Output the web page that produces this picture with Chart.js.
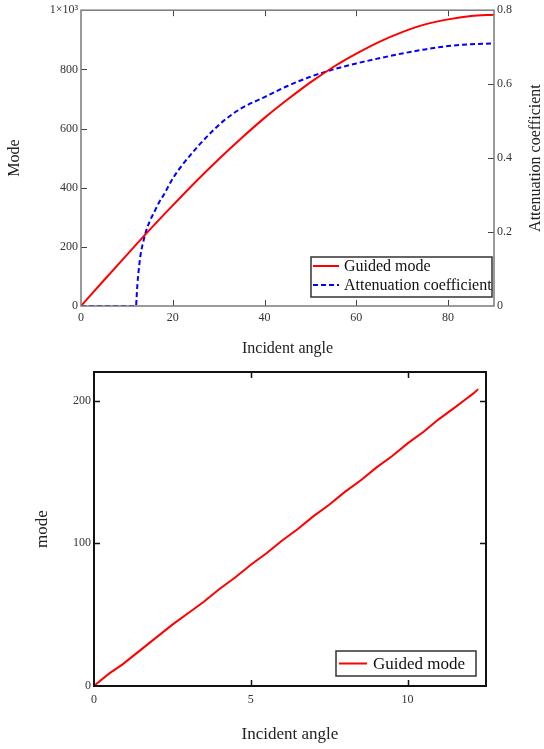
<!DOCTYPE html>
<html>
<head>
<meta charset="utf-8">
<script src="https://cdn.jsdelivr.net/npm/chart.js@4/dist/chart.umd.min.js"></script>
<style>
  html, body { margin: 0; padding: 0; background: #fff; }
  #wrap { position: relative; width: 544px; height: 749px; }
  #topBox { position: absolute; left: 0; top: 0; width: 544px; height: 360px; }
  #bottomBox { position: absolute; left: 0; top: 360px; width: 544px; height: 389px; }
</style>
</head>
<body>
<div id="wrap">
  <div id="topBox"><canvas id="topChart" width="544" height="360"></canvas></div>
  <div id="bottomBox"><canvas id="bottomChart" width="544" height="389"></canvas></div>
</div>
<script>
// ----- data -----
// top chart: guided mode vs incident angle
const topAngles = [0, 5, 10, 15, 20, 25, 30, 35, 40, 45, 50, 55, 60, 65, 70, 75, 80, 85, 90];
const topGuided = [0, 87, 173, 258, 340, 420, 496, 568, 636, 698, 756, 808, 853, 893, 926, 952, 969, 980, 985];

// top chart: attenuation coefficient vs incident angle
const attAngles = [0, 12, 12.1, 12.3, 12.6, 13, 13.5, 14, 15, 16, 17, 18, 20, 22, 25, 28, 31, 35, 40, 45, 50, 55, 60, 65, 70, 75, 80, 85, 90];
const attValues = [0, 0, 0.02, 0.06, 0.1, 0.14, 0.17, 0.195, 0.23, 0.255, 0.28, 0.3, 0.345, 0.38, 0.425, 0.465, 0.5, 0.535, 0.565, 0.595, 0.62, 0.64, 0.656, 0.67, 0.683, 0.694, 0.703, 0.708, 0.71];

// bottom chart: guided mode for small angles
const lowAngles = [0, 0.1, 0.5, 0.9, 1.3, 1.7, 2.1, 2.5, 3, 3.5, 4, 4.5, 5, 5.5, 6, 6.5, 7, 7.5, 8, 8.5, 9, 9.5, 10, 10.5, 11, 11.5, 11.8, 12.1, 12.25];
const lowGuided = [0, 2, 9, 15, 22, 29, 36, 43, 51, 59, 68, 76, 85, 93, 102, 110, 119, 127, 136, 144, 153, 161, 170, 178, 187, 195, 200, 205, 208];

// tick labels
const topXTicks = [0, 20, 40, 60, 80];
const topYTicks = [0, 200, 400, 600, 800, 1000];
const topY1Ticks = [0, 0.2, 0.4, 0.6, 0.8];
const lowXTicks = [0, 5, 10];
const lowYTicks = [0, 100, 200];

const serif = "'Liberation Serif', 'DejaVu Serif', serif";
const toPoints = (xs, ys) => xs.map((x, i) => ({ x: x, y: ys[i] }));
const fixTicks = list => scale => { scale.ticks = list.map(v => ({ value: v })); };

// frame, inward tick marks, axis titles and boxed legend
const decorPlugin = {
    id: 'decor',
    afterDraw(chart, args, o) {
        const { ctx, chartArea: a, scales } = chart;
        ctx.save();

        // tick marks pointing into the plot
        const L = 6;
        ctx.strokeStyle = o.tickColor;
        ctx.lineWidth = o.tickWidth;
        ctx.beginPath();
        scales.x.ticks.forEach(t => {
            const px = Math.round(scales.x.getPixelForValue(t.value)) + 0.5;
            if (px < a.left + 2 || px > a.right - 2) return;
            ctx.moveTo(px, a.bottom); ctx.lineTo(px, a.bottom - L);
            ctx.moveTo(px, a.top); ctx.lineTo(px, a.top + L);
        });
        scales.y.ticks.forEach(t => {
            const py = Math.round(scales.y.getPixelForValue(t.value)) + 0.5;
            if (py < a.top + 2 || py > a.bottom - 2) return;
            ctx.moveTo(a.left, py); ctx.lineTo(a.left + L, py);
            if (!scales.y1) { ctx.moveTo(a.right, py); ctx.lineTo(a.right - L, py); }
        });
        if (scales.y1) {
            scales.y1.ticks.forEach(t => {
                const py = Math.round(scales.y1.getPixelForValue(t.value)) + 0.5;
                if (py < a.top + 2 || py > a.bottom - 2) return;
                ctx.moveTo(a.right, py); ctx.lineTo(a.right - L, py);
            });
        }
        ctx.stroke();

        // frame
        ctx.strokeStyle = o.frameColor;
        ctx.lineWidth = o.frameWidth;
        ctx.strokeRect(a.left, a.top, a.right - a.left, a.bottom - a.top);

        // axis titles
        ctx.fillStyle = '#222';
        ctx.textAlign = 'center';
        ctx.textBaseline = 'middle';
        ctx.font = o.titleSize + 'px ' + serif;
        ctx.fillText(o.xTitle, (a.left + a.right) / 2, a.bottom + o.xTitleGap);
        const midY = (a.top + a.bottom) / 2;
        ctx.save();
        ctx.translate(o.yTitleX, midY);
        ctx.rotate(-Math.PI / 2);
        ctx.fillText(o.yTitle, 0, 0);
        ctx.restore();
        if (o.y1Title) {
            ctx.save();
            ctx.translate(o.y1TitleX, midY);
            ctx.rotate(-Math.PI / 2);
            ctx.fillText(o.y1Title, 0, 0);
            ctx.restore();
        }

        // legend box
        const lg = o.legend;
        const bx = a.right - lg.right - lg.width;
        const by = a.bottom - lg.bottom - lg.height;
        ctx.fillStyle = '#fff';
        ctx.fillRect(bx, by, lg.width, lg.height);
        ctx.strokeStyle = '#333';
        ctx.lineWidth = 1.5;
        ctx.strokeRect(bx, by, lg.width, lg.height);
        ctx.font = lg.size + 'px ' + serif;
        ctx.textAlign = 'left';
        chart.data.datasets.forEach((ds, i) => {
            const cy = by + lg.firstRow + i * lg.rowGap;
            ctx.strokeStyle = ds.borderColor;
            ctx.lineWidth = ds.borderWidth;
            ctx.setLineDash(ds.borderDash || []);
            ctx.beginPath();
            ctx.moveTo(bx + lg.lineStart, cy);
            ctx.lineTo(bx + lg.lineEnd, cy);
            ctx.stroke();
            ctx.setLineDash([]);
            ctx.fillStyle = '#111';
            ctx.fillText(ds.label, bx + lg.textStart, cy + 1);
        });
        ctx.restore();
    }
};

const tickFont = { family: serif, size: 12 };

// ----- top chart -----
new Chart(document.getElementById('topChart'), {
    type: 'line',
    data: {
        datasets: [{
            label: 'Guided mode',
            data: toPoints(topAngles, topGuided),
            borderColor: '#ff0000',
            borderWidth: 2,
            pointRadius: 0,
            cubicInterpolationMode: 'monotone',
            yAxisID: 'y'
        }, {
            label: 'Attenuation coefficient',
            data: toPoints(attAngles, attValues),
            borderColor: '#0000ff',
            borderWidth: 2,
            borderDash: [5, 3],
            pointRadius: 0,
            cubicInterpolationMode: 'monotone',
            yAxisID: 'y1'
        }]
    },
    options: {
        responsive: false,
        animation: false,
        layout: { padding: { top: 10, left: 0, right: 0, bottom: 0 } },
        plugins: {
            legend: { display: false },
            tooltip: { enabled: false },
            decor: {
                frameColor: '#7a7a7a', frameWidth: 1.5,
                tickColor: '#444', tickWidth: 1,
                titleSize: 16,
                xTitle: 'Incident angle', xTitleGap: 43,
                yTitle: 'Mode', yTitleX: 15,
                y1Title: 'Attenuation coefficient', y1TitleX: 536,
                legend: { right: 2, bottom: 9, width: 181, height: 40, size: 16,
                          firstRow: 9, rowGap: 19, lineStart: 2, lineEnd: 28, textStart: 33 }
            }
        },
        scales: {
            x: {
                type: 'linear', min: 0, max: 90,
                afterBuildTicks: fixTicks(topXTicks),
                afterFit: s => { s.height = 54; },
                grid: { display: false, drawTicks: false },
                border: { display: false },
                ticks: { font: tickFont, color: '#333', padding: 5 }
            },
            y: {
                type: 'linear', position: 'left', min: 0, max: 1000,
                afterBuildTicks: fixTicks(topYTicks),
                afterFit: s => { s.width = 81; },
                grid: { display: false, drawTicks: false },
                border: { display: false },
                ticks: {
                    font: tickFont, color: '#333', padding: 3,
                    callback: v => v === 1000 ? '1×10³' : v
                }
            },
            y1: {
                type: 'linear', position: 'right', min: 0, max: 0.8,
                afterBuildTicks: fixTicks(topY1Ticks),
                afterFit: s => { s.width = 50; },
                grid: { display: false, drawTicks: false },
                border: { display: false },
                ticks: { font: tickFont, color: '#333', padding: 3 }
            }
        }
    },
    plugins: [decorPlugin]
});

// ----- bottom chart -----
new Chart(document.getElementById('bottomChart'), {
    type: 'line',
    data: {
        datasets: [{
            label: 'Guided mode',
            data: toPoints(lowAngles, lowGuided),
            borderColor: '#ff0000',
            borderWidth: 2,
            pointRadius: 0,
            tension: 0
        }]
    },
    options: {
        responsive: false,
        animation: false,
        layout: { padding: { top: 12, left: 0, right: 58, bottom: 0 } },
        plugins: {
            legend: { display: false },
            tooltip: { enabled: false },
            decor: {
                frameColor: '#111', frameWidth: 2,
                tickColor: '#111', tickWidth: 1.5,
                titleSize: 17,
                xTitle: 'Incident angle', xTitleGap: 49,
                yTitle: 'mode', yTitleX: 43,
                legend: { right: 10, bottom: 10, width: 140, height: 25, size: 17,
                          firstRow: 12.5, rowGap: 0, lineStart: 3, lineEnd: 31, textStart: 37 }
            }
        },
        scales: {
            x: {
                type: 'linear', min: 0, max: 12.5,
                afterBuildTicks: fixTicks(lowXTicks),
                afterFit: s => { s.height = 63; },
                grid: { display: false, drawTicks: false },
                border: { display: false },
                ticks: { font: tickFont, color: '#333', padding: 7 }
            },
            y: {
                type: 'linear', position: 'left', min: 0, max: 220,
                afterBuildTicks: fixTicks(lowYTicks),
                afterFit: s => { s.width = 94; },
                grid: { display: false, drawTicks: false },
                border: { display: false },
                ticks: { font: tickFont, color: '#333', padding: 3 }
            }
        }
    },
    plugins: [decorPlugin]
});
</script>
</body>
</html>
